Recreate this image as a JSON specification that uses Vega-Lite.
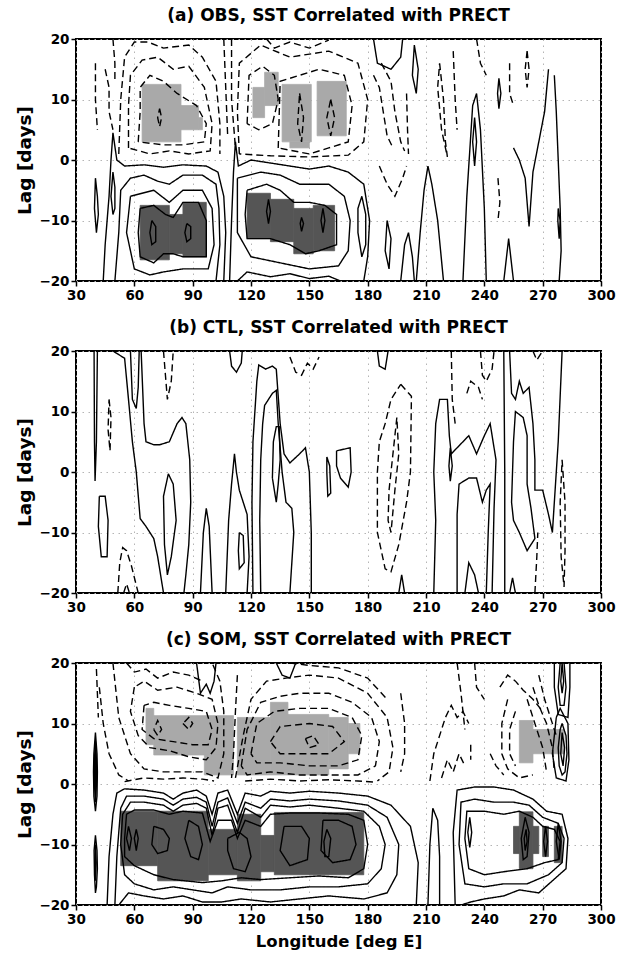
{
"$schema": "https://vega.github.io/schema/vega-lite/v6.json",
"background": "white",
"padding": {"left": 14, "top": 6, "right": 10, "bottom": 5},
"spacing": 70,
"bounds": "flush",
"config": {
  "font": "DejaVu Sans",
  "view": {"stroke": "black", "strokeWidth": 2},
  "title": {"fontSize": 17, "fontWeight": "bold", "offset": 7, "color": "black", "anchor": "middle"},
  "axis": {"labelFontSize": 13.5, "labelFontWeight": "bold", "labelColor": "black", "labelOverlap": false, "labelFlush": false, "tickColor": "black", "tickSize": 5, "tickWidth": 1.5, "domain": false, "grid": true, "gridColor": "#b5b5b5", "gridDash": [1.5, 4.5], "gridWidth": 1, "labelPadding": 2, "titleColor": "black"},
  "axisX": {"titleFontSize": 16.5, "titleFontWeight": "bold"},
  "axisY": {"titleFontSize": 18.5, "titleFontWeight": "bold"}
},
"datasets": {
"shade": [
{"p":"a","k":"neg","x1":64,"x2":84,"y1":3,"y2":12.5},
{"p":"a","k":"neg","x1":84,"x2":93,"y1":5,"y2":9},
{"p":"a","k":"neg","x1":93,"x2":95,"y1":5,"y2":7},
{"p":"a","k":"neg","x1":121,"x2":127,"y1":7,"y2":12},
{"p":"a","k":"neg","x1":127,"x2":134,"y1":9,"y2":14.5},
{"p":"a","k":"neg","x1":136,"x2":151,"y1":3,"y2":12.5},
{"p":"a","k":"neg","x1":140,"x2":150,"y1":2,"y2":3},
{"p":"a","k":"neg","x1":154,"x2":169,"y1":4,"y2":13},
{"p":"a","k":"pos","x1":63,"x2":78,"y1":-16.5,"y2":-7.5},
{"p":"a","k":"pos","x1":78,"x2":85,"y1":-15.5,"y2":-9},
{"p":"a","k":"pos","x1":85,"x2":97,"y1":-16,"y2":-7},
{"p":"a","k":"pos","x1":118,"x2":130,"y1":-13,"y2":-5.5},
{"p":"a","k":"pos","x1":130,"x2":142,"y1":-13.5,"y2":-6.5},
{"p":"a","k":"pos","x1":142,"x2":152,"y1":-15.5,"y2":-8},
{"p":"a","k":"pos","x1":152,"x2":163,"y1":-15,"y2":-7.5},
{"p":"c","k":"neg","x1":66,"x2":70,"y1":6.5,"y2":12.5},
{"p":"c","k":"neg","x1":70,"x2":111,"y1":4.8,"y2":11.3},
{"p":"c","k":"neg","x1":96,"x2":111,"y1":1.5,"y2":4.8},
{"p":"c","k":"neg","x1":113,"x2":130,"y1":1.5,"y2":11},
{"p":"c","k":"neg","x1":130,"x2":139,"y1":1.5,"y2":13.5},
{"p":"c","k":"neg","x1":139,"x2":160,"y1":1.5,"y2":11.5},
{"p":"c","k":"neg","x1":160,"x2":170,"y1":2.5,"y2":11},
{"p":"c","k":"neg","x1":170,"x2":176,"y1":5,"y2":10},
{"p":"c","k":"neg","x1":258,"x2":265,"y1":3.5,"y2":10.5},
{"p":"c","k":"neg","x1":265,"x2":281,"y1":5,"y2":9},
{"p":"c","k":"pos","x1":53,"x2":72,"y1":-13.5,"y2":-4.5},
{"p":"c","k":"pos","x1":72,"x2":98,"y1":-16,"y2":-4.5},
{"p":"c","k":"pos","x1":98,"x2":113,"y1":-15,"y2":-7.5},
{"p":"c","k":"pos","x1":113,"x2":125,"y1":-16,"y2":-5},
{"p":"c","k":"pos","x1":125,"x2":132,"y1":-14.5,"y2":-8.5},
{"p":"c","k":"pos","x1":132,"x2":178,"y1":-15,"y2":-4.7},
{"p":"c","k":"pos","x1":258,"x2":265,"y1":-14,"y2":-4.6},
{"p":"c","k":"pos","x1":255,"x2":258,"y1":-11.5,"y2":-7},
{"p":"c","k":"pos","x1":265,"x2":268,"y1":-11.5,"y2":-7},
{"p":"c","k":"pos","x1":270,"x2":273,"y1":-12,"y2":-7},
{"p":"c","k":"pos","x1":276,"x2":280,"y1":-13,"y2":-7}
],
"lines": [
{"p":"a","c":"a1","s":"pos","x":69,"y":-10},{"p":"a","c":"a1","s":"pos","x":71,"y":-11},{"p":"a","c":"a1","s":"pos","x":71,"y":-13.5},{"p":"a","c":"a1","s":"pos","x":69,"y":-14},{"p":"a","c":"a1","s":"pos","x":68,"y":-12},{"p":"a","c":"a1","s":"pos","x":69,"y":-10},
{"p":"a","c":"a2","s":"pos","x":87,"y":-10.5},{"p":"a","c":"a2","s":"pos","x":89,"y":-11},{"p":"a","c":"a2","s":"pos","x":89,"y":-13},{"p":"a","c":"a2","s":"pos","x":87,"y":-13.5},{"p":"a","c":"a2","s":"pos","x":86,"y":-12},{"p":"a","c":"a2","s":"pos","x":87,"y":-10.5},
{"p":"a","c":"a3","s":"pos","x":63,"y":-8},{"p":"a","c":"a3","s":"pos","x":70,"y":-7.5},{"p":"a","c":"a3","s":"pos","x":76,"y":-9},{"p":"a","c":"a3","s":"pos","x":80,"y":-9.5},{"p":"a","c":"a3","s":"pos","x":85,"y":-7},{"p":"a","c":"a3","s":"pos","x":93,"y":-7},{"p":"a","c":"a3","s":"pos","x":97,"y":-10},{"p":"a","c":"a3","s":"pos","x":97,"y":-16},{"p":"a","c":"a3","s":"pos","x":85,"y":-16},{"p":"a","c":"a3","s":"pos","x":80,"y":-15.5},{"p":"a","c":"a3","s":"pos","x":75,"y":-15.5},{"p":"a","c":"a3","s":"pos","x":70,"y":-17},{"p":"a","c":"a3","s":"pos","x":63,"y":-16},{"p":"a","c":"a3","s":"pos","x":62,"y":-12},{"p":"a","c":"a3","s":"pos","x":63,"y":-8},
{"p":"a","c":"a4","s":"pos","x":58,"y":-6},{"p":"a","c":"a4","s":"pos","x":64,"y":-5.5},{"p":"a","c":"a4","s":"pos","x":70,"y":-5},{"p":"a","c":"a4","s":"pos","x":78,"y":-7},{"p":"a","c":"a4","s":"pos","x":85,"y":-5},{"p":"a","c":"a4","s":"pos","x":95,"y":-5},{"p":"a","c":"a4","s":"pos","x":100,"y":-8},{"p":"a","c":"a4","s":"pos","x":101,"y":-14},{"p":"a","c":"a4","s":"pos","x":98,"y":-18},{"p":"a","c":"a4","s":"pos","x":85,"y":-18},{"p":"a","c":"a4","s":"pos","x":75,"y":-18.5},{"p":"a","c":"a4","s":"pos","x":68,"y":-19},{"p":"a","c":"a4","s":"pos","x":60,"y":-18},{"p":"a","c":"a4","s":"pos","x":56,"y":-12},{"p":"a","c":"a4","s":"pos","x":58,"y":-6},
{"p":"a","c":"a5","s":"pos","x":50,"y":-20},{"p":"a","c":"a5","s":"pos","x":52,"y":-12},{"p":"a","c":"a5","s":"pos","x":53,"y":-5},{"p":"a","c":"a5","s":"pos","x":58,"y":-3},{"p":"a","c":"a5","s":"pos","x":65,"y":-2.5},{"p":"a","c":"a5","s":"pos","x":72,"y":-3.5},{"p":"a","c":"a5","s":"pos","x":78,"y":-4},{"p":"a","c":"a5","s":"pos","x":85,"y":-2.5},{"p":"a","c":"a5","s":"pos","x":95,"y":-2.5},{"p":"a","c":"a5","s":"pos","x":102,"y":-4},{"p":"a","c":"a5","s":"pos","x":103.5,"y":-8},{"p":"a","c":"a5","s":"pos","x":104,"y":-14},{"p":"a","c":"a5","s":"pos","x":102,"y":-20},
{"p":"a","c":"a6","s":"pos","x":44,"y":-20},{"p":"a","c":"a6","s":"pos","x":45,"y":-14},{"p":"a","c":"a6","s":"pos","x":47,"y":-6},{"p":"a","c":"a6","s":"pos","x":48,"y":0},{"p":"a","c":"a6","s":"pos","x":49,"y":4.5},{"p":"a","c":"a6","s":"pos","x":51,"y":0},{"p":"a","c":"a6","s":"pos","x":55,"y":-1},{"p":"a","c":"a6","s":"pos","x":65,"y":-0.8},{"p":"a","c":"a6","s":"pos","x":75,"y":-1.2},{"p":"a","c":"a6","s":"pos","x":85,"y":-0.8},{"p":"a","c":"a6","s":"pos","x":97,"y":-1},{"p":"a","c":"a6","s":"pos","x":103,"y":-2},{"p":"a","c":"a6","s":"pos","x":106,"y":-6},{"p":"a","c":"a6","s":"pos","x":107,"y":-12},{"p":"a","c":"a6","s":"pos","x":106,"y":-20},
{"p":"a","c":"a7","s":"pos","x":40,"y":-3},{"p":"a","c":"a7","s":"pos","x":41,"y":-6},{"p":"a","c":"a7","s":"pos","x":41.5,"y":-9},{"p":"a","c":"a7","s":"pos","x":40.5,"y":-12},{"p":"a","c":"a7","s":"pos","x":39.5,"y":-8},{"p":"a","c":"a7","s":"pos","x":40,"y":-3},
{"p":"a","c":"a8","s":"pos","x":49,"y":-2},{"p":"a","c":"a8","s":"pos","x":50,"y":-4.5},{"p":"a","c":"a8","s":"pos","x":50,"y":-8},{"p":"a","c":"a8","s":"pos","x":49,"y":-9},{"p":"a","c":"a8","s":"pos","x":48,"y":-6},{"p":"a","c":"a8","s":"pos","x":49,"y":-2},
{"p":"a","c":"a9","s":"pos","x":109,"y":-20},{"p":"a","c":"a9","s":"pos","x":110,"y":-10},{"p":"a","c":"a9","s":"pos","x":111,"y":-2},{"p":"a","c":"a9","s":"pos","x":112,"y":3},{"p":"a","c":"a9","s":"pos","x":113.5,"y":-1},{"p":"a","c":"a9","s":"pos","x":120,"y":0},{"p":"a","c":"a9","s":"pos","x":130,"y":-0.5},{"p":"a","c":"a9","s":"pos","x":140,"y":-1},{"p":"a","c":"a9","s":"pos","x":150,"y":-1.5},{"p":"a","c":"a9","s":"pos","x":160,"y":-1},{"p":"a","c":"a9","s":"pos","x":170,"y":-2},{"p":"a","c":"a9","s":"pos","x":178,"y":-4},{"p":"a","c":"a9","s":"pos","x":181,"y":-10},{"p":"a","c":"a9","s":"pos","x":180,"y":-16},{"p":"a","c":"a9","s":"pos","x":178,"y":-20},
{"p":"a","c":"a10","s":"pos","x":113,"y":-3},{"p":"a","c":"a10","s":"pos","x":125,"y":-2},{"p":"a","c":"a10","s":"pos","x":135,"y":-2.5},{"p":"a","c":"a10","s":"pos","x":145,"y":-4},{"p":"a","c":"a10","s":"pos","x":160,"y":-4},{"p":"a","c":"a10","s":"pos","x":168,"y":-6},{"p":"a","c":"a10","s":"pos","x":171,"y":-10},{"p":"a","c":"a10","s":"pos","x":170,"y":-15},{"p":"a","c":"a10","s":"pos","x":165,"y":-17.5},{"p":"a","c":"a10","s":"pos","x":150,"y":-18},{"p":"a","c":"a10","s":"pos","x":135,"y":-17},{"p":"a","c":"a10","s":"pos","x":120,"y":-16},{"p":"a","c":"a10","s":"pos","x":113,"y":-12},{"p":"a","c":"a10","s":"pos","x":113,"y":-3},
{"p":"a","c":"a11","s":"pos","x":118,"y":-5},{"p":"a","c":"a11","s":"pos","x":128,"y":-4},{"p":"a","c":"a11","s":"pos","x":135,"y":-5},{"p":"a","c":"a11","s":"pos","x":142,"y":-7},{"p":"a","c":"a11","s":"pos","x":150,"y":-7},{"p":"a","c":"a11","s":"pos","x":158,"y":-7.5},{"p":"a","c":"a11","s":"pos","x":164,"y":-9},{"p":"a","c":"a11","s":"pos","x":164,"y":-14},{"p":"a","c":"a11","s":"pos","x":155,"y":-15},{"p":"a","c":"a11","s":"pos","x":148,"y":-15.5},{"p":"a","c":"a11","s":"pos","x":140,"y":-14},{"p":"a","c":"a11","s":"pos","x":130,"y":-13},{"p":"a","c":"a11","s":"pos","x":118,"y":-13},{"p":"a","c":"a11","s":"pos","x":117,"y":-9},{"p":"a","c":"a11","s":"pos","x":118,"y":-5},
{"p":"a","c":"a12","s":"pos","x":129,"y":-6.5},{"p":"a","c":"a12","s":"pos","x":130,"y":-8.5},{"p":"a","c":"a12","s":"pos","x":129,"y":-10.5},{"p":"a","c":"a12","s":"pos","x":128,"y":-8.5},{"p":"a","c":"a12","s":"pos","x":129,"y":-6.5},
{"p":"a","c":"a13","s":"pos","x":146,"y":-9.5},{"p":"a","c":"a13","s":"pos","x":147,"y":-10.5},{"p":"a","c":"a13","s":"pos","x":146,"y":-11.8},{"p":"a","c":"a13","s":"pos","x":145.3,"y":-10.5},{"p":"a","c":"a13","s":"pos","x":146,"y":-9.5},
{"p":"a","c":"a14","s":"pos","x":157,"y":-8},{"p":"a","c":"a14","s":"pos","x":158,"y":-10},{"p":"a","c":"a14","s":"pos","x":157,"y":-12},{"p":"a","c":"a14","s":"pos","x":156,"y":-10},{"p":"a","c":"a14","s":"pos","x":157,"y":-8},
{"p":"a","c":"a15","s":"pos","x":177,"y":-6},{"p":"a","c":"a15","s":"pos","x":179,"y":-9},{"p":"a","c":"a15","s":"pos","x":179,"y":-14},{"p":"a","c":"a15","s":"pos","x":177,"y":-16},{"p":"a","c":"a15","s":"pos","x":175,"y":-12},{"p":"a","c":"a15","s":"pos","x":175,"y":-8},{"p":"a","c":"a15","s":"pos","x":177,"y":-6},
{"p":"a","c":"a16","s":"pos","x":113,"y":-20},{"p":"a","c":"a16","s":"pos","x":118,"y":-18.5},{"p":"a","c":"a16","s":"pos","x":130,"y":-19.3},{"p":"a","c":"a16","s":"pos","x":140,"y":-18.8},{"p":"a","c":"a16","s":"pos","x":150,"y":-19.6},{"p":"a","c":"a16","s":"pos","x":160,"y":-19.2},{"p":"a","c":"a16","s":"pos","x":166,"y":-20},
{"p":"a","c":"a17","s":"pos","x":204,"y":19},{"p":"a","c":"a17","s":"pos","x":206,"y":15},{"p":"a","c":"a17","s":"pos","x":205,"y":11},{"p":"a","c":"a17","s":"pos","x":203,"y":14},{"p":"a","c":"a17","s":"pos","x":204,"y":19},
{"p":"a","c":"a18","s":"pos","x":183,"y":20},{"p":"a","c":"a18","s":"pos","x":185,"y":16},{"p":"a","c":"a18","s":"pos","x":192,"y":15},{"p":"a","c":"a18","s":"pos","x":197,"y":17},{"p":"a","c":"a18","s":"pos","x":198,"y":20},
{"p":"a","c":"a19","s":"pos","x":190,"y":-10},{"p":"a","c":"a19","s":"pos","x":192,"y":-13},{"p":"a","c":"a19","s":"pos","x":191,"y":-18},{"p":"a","c":"a19","s":"pos","x":189,"y":-15},{"p":"a","c":"a19","s":"pos","x":190,"y":-10},
{"p":"a","c":"a20","s":"pos","x":205,"y":-20},{"p":"a","c":"a20","s":"pos","x":207,"y":-12},{"p":"a","c":"a20","s":"pos","x":209,"y":-5},{"p":"a","c":"a20","s":"pos","x":211,"y":-1},{"p":"a","c":"a20","s":"pos","x":213,"y":-4},{"p":"a","c":"a20","s":"pos","x":216,"y":-10},{"p":"a","c":"a20","s":"pos","x":219,"y":-20},
{"p":"a","c":"a21","s":"pos","x":197,"y":-20},{"p":"a","c":"a21","s":"pos","x":199,"y":-14},{"p":"a","c":"a21","s":"pos","x":201,"y":-12},{"p":"a","c":"a21","s":"pos","x":203,"y":-16},{"p":"a","c":"a21","s":"pos","x":204,"y":-20},
{"p":"a","c":"a22","s":"pos","x":229,"y":-20},{"p":"a","c":"a22","s":"pos","x":231,"y":-6},{"p":"a","c":"a22","s":"pos","x":233,"y":4},{"p":"a","c":"a22","s":"pos","x":234,"y":9},{"p":"a","c":"a22","s":"pos","x":236,"y":11},{"p":"a","c":"a22","s":"pos","x":238,"y":5},{"p":"a","c":"a22","s":"pos","x":240,"y":-8},{"p":"a","c":"a22","s":"pos","x":241,"y":-20},
{"p":"a","c":"a23","s":"pos","x":235,"y":7},{"p":"a","c":"a23","s":"pos","x":236,"y":3},{"p":"a","c":"a23","s":"pos","x":235,"y":-1},{"p":"a","c":"a23","s":"pos","x":234,"y":3},{"p":"a","c":"a23","s":"pos","x":235,"y":7},
{"p":"a","c":"a24","s":"pos","x":250,"y":-20},{"p":"a","c":"a24","s":"pos","x":252.5,"y":-13},{"p":"a","c":"a24","s":"pos","x":255,"y":-20},
{"p":"a","c":"a25","s":"pos","x":273,"y":15},{"p":"a","c":"a25","s":"pos","x":271,"y":8},{"p":"a","c":"a25","s":"pos","x":268,"y":3},{"p":"a","c":"a25","s":"pos","x":265,"y":-2},{"p":"a","c":"a25","s":"pos","x":263,"y":-11},{"p":"a","c":"a25","s":"pos","x":261,"y":-3},{"p":"a","c":"a25","s":"pos","x":258,"y":0},{"p":"a","c":"a25","s":"pos","x":255,"y":2},
{"p":"a","c":"a26","s":"pos","x":276,"y":14},{"p":"a","c":"a26","s":"pos","x":277,"y":8},{"p":"a","c":"a26","s":"pos","x":278,"y":0},{"p":"a","c":"a26","s":"pos","x":279,"y":-8},{"p":"a","c":"a26","s":"pos","x":279.5,"y":-15},{"p":"a","c":"a26","s":"pos","x":278.5,"y":-20},
{"p":"a","c":"a27","s":"pos","x":278,"y":-8},{"p":"a","c":"a27","s":"pos","x":279,"y":-10},{"p":"a","c":"a27","s":"pos","x":278.5,"y":-13},{"p":"a","c":"a27","s":"pos","x":277.8,"y":-10},{"p":"a","c":"a27","s":"pos","x":278,"y":-8},
{"p":"a","c":"a28","s":"pos","x":247.5,"y":13.5},{"p":"a","c":"a28","s":"pos","x":248.5,"y":11},{"p":"a","c":"a28","s":"pos","x":247.5,"y":8.5},{"p":"a","c":"a28","s":"pos","x":246.8,"y":11},{"p":"a","c":"a28","s":"pos","x":247.5,"y":13.5},
{"p":"a","c":"a30","s":"neg","x":62,"y":3},{"p":"a","c":"a30","s":"neg","x":63,"y":8},{"p":"a","c":"a30","s":"neg","x":63,"y":12},{"p":"a","c":"a30","s":"neg","x":68,"y":14},{"p":"a","c":"a30","s":"neg","x":75,"y":13},{"p":"a","c":"a30","s":"neg","x":82,"y":11},{"p":"a","c":"a30","s":"neg","x":92,"y":9},{"p":"a","c":"a30","s":"neg","x":97,"y":6},{"p":"a","c":"a30","s":"neg","x":96,"y":3},{"p":"a","c":"a30","s":"neg","x":85,"y":2.5},{"p":"a","c":"a30","s":"neg","x":75,"y":2.5},{"p":"a","c":"a30","s":"neg","x":62,"y":3},
{"p":"a","c":"a31","s":"neg","x":57,"y":2},{"p":"a","c":"a31","s":"neg","x":57,"y":9},{"p":"a","c":"a31","s":"neg","x":58,"y":14},{"p":"a","c":"a31","s":"neg","x":64,"y":16.5},{"p":"a","c":"a31","s":"neg","x":72,"y":17},{"p":"a","c":"a31","s":"neg","x":80,"y":15},{"p":"a","c":"a31","s":"neg","x":88,"y":15.5},{"p":"a","c":"a31","s":"neg","x":96,"y":12},{"p":"a","c":"a31","s":"neg","x":100,"y":6},{"p":"a","c":"a31","s":"neg","x":99,"y":1.5},{"p":"a","c":"a31","s":"neg","x":88,"y":1},{"p":"a","c":"a31","s":"neg","x":78,"y":1.5},{"p":"a","c":"a31","s":"neg","x":68,"y":1},{"p":"a","c":"a31","s":"neg","x":57,"y":2},
{"p":"a","c":"a32","s":"neg","x":52,"y":1},{"p":"a","c":"a32","s":"neg","x":53,"y":10},{"p":"a","c":"a32","s":"neg","x":55,"y":17},{"p":"a","c":"a32","s":"neg","x":60,"y":19.5},{"p":"a","c":"a32","s":"neg","x":67,"y":19.5},{"p":"a","c":"a32","s":"neg","x":75,"y":18.5},{"p":"a","c":"a32","s":"neg","x":88,"y":19},{"p":"a","c":"a32","s":"neg","x":95,"y":17},{"p":"a","c":"a32","s":"neg","x":102,"y":13},{"p":"a","c":"a32","s":"neg","x":104,"y":6},{"p":"a","c":"a32","s":"neg","x":104,"y":1},
{"p":"a","c":"a33","s":"neg","x":73,"y":8.5},{"p":"a","c":"a33","s":"neg","x":74,"y":7},{"p":"a","c":"a33","s":"neg","x":73,"y":5.5},{"p":"a","c":"a33","s":"neg","x":72,"y":7},{"p":"a","c":"a33","s":"neg","x":73,"y":8.5},
{"p":"a","c":"a34","s":"neg","x":40,"y":16},{"p":"a","c":"a34","s":"neg","x":40,"y":10},{"p":"a","c":"a34","s":"neg","x":41,"y":5},
{"p":"a","c":"a35","s":"neg","x":45,"y":15},{"p":"a","c":"a35","s":"neg","x":47,"y":12},{"p":"a","c":"a35","s":"neg","x":47,"y":8},{"p":"a","c":"a35","s":"neg","x":49,"y":5},
{"p":"a","c":"a36","s":"neg","x":49,"y":20},{"p":"a","c":"a36","s":"neg","x":50,"y":16},{"p":"a","c":"a36","s":"neg","x":50,"y":13},
{"p":"a","c":"a37","s":"neg","x":106,"y":20},{"p":"a","c":"a37","s":"neg","x":107,"y":12},{"p":"a","c":"a37","s":"neg","x":108,"y":4},
{"p":"a","c":"a38","s":"neg","x":110,"y":20},{"p":"a","c":"a38","s":"neg","x":110,"y":10},{"p":"a","c":"a38","s":"neg","x":112,"y":2},
{"p":"a","c":"a39","s":"neg","x":118,"y":6},{"p":"a","c":"a39","s":"neg","x":119,"y":14},{"p":"a","c":"a39","s":"neg","x":126,"y":15.5},{"p":"a","c":"a39","s":"neg","x":132,"y":14},{"p":"a","c":"a39","s":"neg","x":134,"y":10},{"p":"a","c":"a39","s":"neg","x":131,"y":6},{"p":"a","c":"a39","s":"neg","x":124,"y":5},{"p":"a","c":"a39","s":"neg","x":118,"y":6},
{"p":"a","c":"a40","s":"neg","x":134,"y":2},{"p":"a","c":"a40","s":"neg","x":135,"y":13},{"p":"a","c":"a40","s":"neg","x":145,"y":14},{"p":"a","c":"a40","s":"neg","x":155,"y":15},{"p":"a","c":"a40","s":"neg","x":168,"y":14},{"p":"a","c":"a40","s":"neg","x":172,"y":9},{"p":"a","c":"a40","s":"neg","x":170,"y":3},{"p":"a","c":"a40","s":"neg","x":160,"y":2},{"p":"a","c":"a40","s":"neg","x":150,"y":1},{"p":"a","c":"a40","s":"neg","x":134,"y":2},
{"p":"a","c":"a41","s":"neg","x":145,"y":11},{"p":"a","c":"a41","s":"neg","x":147,"y":7},{"p":"a","c":"a41","s":"neg","x":146,"y":3},{"p":"a","c":"a41","s":"neg","x":144,"y":6},{"p":"a","c":"a41","s":"neg","x":145,"y":11},
{"p":"a","c":"a42","s":"neg","x":161,"y":10},{"p":"a","c":"a42","s":"neg","x":163,"y":7},{"p":"a","c":"a42","s":"neg","x":161,"y":4},{"p":"a","c":"a42","s":"neg","x":159,"y":7},{"p":"a","c":"a42","s":"neg","x":161,"y":10},
{"p":"a","c":"a43","s":"neg","x":114,"y":1},{"p":"a","c":"a43","s":"neg","x":113,"y":8},{"p":"a","c":"a43","s":"neg","x":114,"y":16},{"p":"a","c":"a43","s":"neg","x":125,"y":19},{"p":"a","c":"a43","s":"neg","x":140,"y":17},{"p":"a","c":"a43","s":"neg","x":160,"y":18},{"p":"a","c":"a43","s":"neg","x":175,"y":16},{"p":"a","c":"a43","s":"neg","x":180,"y":10},{"p":"a","c":"a43","s":"neg","x":178,"y":3},{"p":"a","c":"a43","s":"neg","x":170,"y":0.8},{"p":"a","c":"a43","s":"neg","x":150,"y":0.5},{"p":"a","c":"a43","s":"neg","x":130,"y":0.7},{"p":"a","c":"a43","s":"neg","x":114,"y":1},
{"p":"a","c":"a44","s":"neg","x":183,"y":14},{"p":"a","c":"a44","s":"neg","x":186,"y":12},{"p":"a","c":"a44","s":"neg","x":188,"y":8},{"p":"a","c":"a44","s":"neg","x":190,"y":4},{"p":"a","c":"a44","s":"neg","x":193,"y":2},
{"p":"a","c":"a45","s":"neg","x":187,"y":16},{"p":"a","c":"a45","s":"neg","x":192,"y":13},{"p":"a","c":"a45","s":"neg","x":194,"y":8},{"p":"a","c":"a45","s":"neg","x":197,"y":3},{"p":"a","c":"a45","s":"neg","x":199,"y":1.5},
{"p":"a","c":"a46","s":"neg","x":200,"y":11},{"p":"a","c":"a46","s":"neg","x":200.5,"y":5},{"p":"a","c":"a46","s":"neg","x":201,"y":1},
{"p":"a","c":"a47","s":"neg","x":217,"y":16},{"p":"a","c":"a47","s":"neg","x":219,"y":10},{"p":"a","c":"a47","s":"neg","x":220,"y":3},{"p":"a","c":"a47","s":"neg","x":221,"y":0.5},{"p":"a","c":"a47","s":"neg","x":218,"y":5},{"p":"a","c":"a47","s":"neg","x":216,"y":12},{"p":"a","c":"a47","s":"neg","x":217,"y":16},
{"p":"a","c":"a48","s":"neg","x":224,"y":18},{"p":"a","c":"a48","s":"neg","x":225,"y":10},{"p":"a","c":"a48","s":"neg","x":226,"y":5},
{"p":"a","c":"a49","s":"neg","x":253,"y":16},{"p":"a","c":"a49","s":"neg","x":253,"y":11},{"p":"a","c":"a49","s":"neg","x":255,"y":9},
{"p":"a","c":"a50","s":"neg","x":262,"y":18},{"p":"a","c":"a50","s":"neg","x":263,"y":15},{"p":"a","c":"a50","s":"neg","x":262,"y":12},{"p":"a","c":"a50","s":"neg","x":261,"y":15},{"p":"a","c":"a50","s":"neg","x":262,"y":18},
{"p":"a","c":"a51","s":"neg","x":186,"y":-1},{"p":"a","c":"a51","s":"neg","x":190,"y":-4},{"p":"a","c":"a51","s":"neg","x":194,"y":-6},{"p":"a","c":"a51","s":"neg","x":198,"y":-3},{"p":"a","c":"a51","s":"neg","x":200,"y":-1},
{"p":"a","c":"a52","s":"neg","x":247,"y":-3},{"p":"a","c":"a52","s":"neg","x":248,"y":-7},{"p":"a","c":"a52","s":"neg","x":247,"y":-10},
{"p":"a","c":"a53","s":"neg","x":128,"y":20},{"p":"a","c":"a53","s":"neg","x":132,"y":18.5},{"p":"a","c":"a53","s":"neg","x":140,"y":19.5},{"p":"a","c":"a53","s":"neg","x":150,"y":18.5},{"p":"a","c":"a53","s":"neg","x":160,"y":19.8},
{"p":"a","c":"a55","s":"neg","x":236,"y":20},{"p":"a","c":"a55","s":"neg","x":238,"y":16},{"p":"a","c":"a55","s":"neg","x":241,"y":14},

{"p":"b","c":"b1","s":"pos","x":39.3,"y":20},{"p":"b","c":"b1","s":"pos","x":39.5,"y":5},{"p":"b","c":"b1","s":"pos","x":39.8,"y":-1.5},{"p":"b","c":"b1","s":"pos","x":40.5,"y":5},{"p":"b","c":"b1","s":"pos","x":41,"y":20},
{"p":"b","c":"b2","s":"neg","x":47,"y":12},{"p":"b","c":"b2","s":"neg","x":48,"y":9},{"p":"b","c":"b2","s":"neg","x":47.5,"y":3.5},{"p":"b","c":"b2","s":"neg","x":46.5,"y":7},{"p":"b","c":"b2","s":"neg","x":47,"y":12},
{"p":"b","c":"b3","s":"pos","x":42,"y":-4},{"p":"b","c":"b3","s":"pos","x":45,"y":-4},{"p":"b","c":"b3","s":"pos","x":46.5,"y":-8},{"p":"b","c":"b3","s":"pos","x":46,"y":-14},{"p":"b","c":"b3","s":"pos","x":43,"y":-14},{"p":"b","c":"b3","s":"pos","x":41.5,"y":-9},{"p":"b","c":"b3","s":"pos","x":42,"y":-4},
{"p":"b","c":"b4","s":"neg","x":51.5,"y":-20},{"p":"b","c":"b4","s":"neg","x":52.5,"y":-15},{"p":"b","c":"b4","s":"neg","x":54,"y":-12.5},{"p":"b","c":"b4","s":"neg","x":56,"y":-13},{"p":"b","c":"b4","s":"neg","x":58.5,"y":-15.5},{"p":"b","c":"b4","s":"neg","x":62,"y":-20},
{"p":"b","c":"b5","s":"neg","x":54.5,"y":-20},{"p":"b","c":"b5","s":"neg","x":56,"y":-18.5},{"p":"b","c":"b5","s":"neg","x":57.5,"y":-20},
{"p":"b","c":"b6","s":"pos","x":49,"y":20},{"p":"b","c":"b6","s":"pos","x":55,"y":18.8},{"p":"b","c":"b6","s":"pos","x":57,"y":12},{"p":"b","c":"b6","s":"pos","x":59,"y":5},{"p":"b","c":"b6","s":"pos","x":61,"y":0},{"p":"b","c":"b6","s":"pos","x":63,"y":-7.7},{"p":"b","c":"b6","s":"pos","x":66,"y":-9},{"p":"b","c":"b6","s":"pos","x":70,"y":-11},{"p":"b","c":"b6","s":"pos","x":72,"y":-14},{"p":"b","c":"b6","s":"pos","x":75,"y":-20},
{"p":"b","c":"b7","s":"pos","x":58,"y":20},{"p":"b","c":"b7","s":"pos","x":59,"y":12},{"p":"b","c":"b7","s":"pos","x":61,"y":10.5},{"p":"b","c":"b7","s":"pos","x":62,"y":14},{"p":"b","c":"b7","s":"pos","x":62.5,"y":20},
{"p":"b","c":"b8","s":"pos","x":63.5,"y":20},{"p":"b","c":"b8","s":"pos","x":65,"y":8},{"p":"b","c":"b8","s":"pos","x":66,"y":5},{"p":"b","c":"b8","s":"pos","x":70,"y":4.5},{"p":"b","c":"b8","s":"pos","x":73,"y":4.5},{"p":"b","c":"b8","s":"pos","x":78,"y":5},{"p":"b","c":"b8","s":"pos","x":82,"y":8},{"p":"b","c":"b8","s":"pos","x":84.5,"y":9},{"p":"b","c":"b8","s":"pos","x":86.5,"y":8},{"p":"b","c":"b8","s":"pos","x":88.5,"y":2},{"p":"b","c":"b8","s":"pos","x":89,"y":-5},{"p":"b","c":"b8","s":"pos","x":88,"y":-12},{"p":"b","c":"b8","s":"pos","x":86.5,"y":-17},{"p":"b","c":"b8","s":"pos","x":85.5,"y":-20},
{"p":"b","c":"b9","s":"pos","x":77.5,"y":-0.3},{"p":"b","c":"b9","s":"pos","x":80,"y":-2},{"p":"b","c":"b9","s":"pos","x":81.5,"y":-8},{"p":"b","c":"b9","s":"pos","x":79,"y":-14},{"p":"b","c":"b9","s":"pos","x":77,"y":-17},{"p":"b","c":"b9","s":"pos","x":75.5,"y":-12},{"p":"b","c":"b9","s":"pos","x":75,"y":-4},{"p":"b","c":"b9","s":"pos","x":77.5,"y":-0.3},
{"p":"b","c":"b10","s":"neg","x":75,"y":20},{"p":"b","c":"b10","s":"neg","x":76,"y":16},{"p":"b","c":"b10","s":"neg","x":77,"y":12},{"p":"b","c":"b10","s":"neg","x":79,"y":15},{"p":"b","c":"b10","s":"neg","x":80,"y":20},
{"p":"b","c":"b11","s":"pos","x":94,"y":-20},{"p":"b","c":"b11","s":"pos","x":95.5,"y":-10},{"p":"b","c":"b11","s":"pos","x":97,"y":-6},{"p":"b","c":"b11","s":"pos","x":98.5,"y":-9},{"p":"b","c":"b11","s":"pos","x":100,"y":-20},
{"p":"b","c":"b12","s":"pos","x":107,"y":-20},{"p":"b","c":"b12","s":"pos","x":108.5,"y":-8},{"p":"b","c":"b12","s":"pos","x":110,"y":-2},{"p":"b","c":"b12","s":"pos","x":111.5,"y":3},{"p":"b","c":"b12","s":"pos","x":112.5,"y":0},{"p":"b","c":"b12","s":"pos","x":114,"y":-3},{"p":"b","c":"b12","s":"pos","x":118,"y":-7},{"p":"b","c":"b12","s":"pos","x":119,"y":-14},{"p":"b","c":"b12","s":"pos","x":118,"y":-20},
{"p":"b","c":"b13","s":"pos","x":114,"y":-10},{"p":"b","c":"b13","s":"pos","x":116,"y":-10.5},{"p":"b","c":"b13","s":"pos","x":116.5,"y":-15},{"p":"b","c":"b13","s":"pos","x":114,"y":-16},{"p":"b","c":"b13","s":"pos","x":113.5,"y":-13},{"p":"b","c":"b13","s":"pos","x":114,"y":-10},
{"p":"b","c":"b14","s":"pos","x":121,"y":-20},{"p":"b","c":"b14","s":"pos","x":120.5,"y":-5},{"p":"b","c":"b14","s":"pos","x":121,"y":5},{"p":"b","c":"b14","s":"pos","x":123,"y":15},{"p":"b","c":"b14","s":"pos","x":124,"y":17.7},{"p":"b","c":"b14","s":"pos","x":127.5,"y":17},{"p":"b","c":"b14","s":"pos","x":131,"y":17.5},{"p":"b","c":"b14","s":"pos","x":133,"y":17},{"p":"b","c":"b14","s":"pos","x":135,"y":8},{"p":"b","c":"b14","s":"pos","x":137,"y":3},{"p":"b","c":"b14","s":"pos","x":140,"y":1.5},{"p":"b","c":"b14","s":"pos","x":145,"y":3},{"p":"b","c":"b14","s":"pos","x":148,"y":4},{"p":"b","c":"b14","s":"pos","x":150,"y":0},{"p":"b","c":"b14","s":"pos","x":151,"y":-10},{"p":"b","c":"b14","s":"pos","x":151,"y":-20},
{"p":"b","c":"b15","s":"pos","x":125,"y":-20},{"p":"b","c":"b15","s":"pos","x":124.5,"y":-8},{"p":"b","c":"b15","s":"pos","x":125,"y":2},{"p":"b","c":"b15","s":"pos","x":126,"y":8},{"p":"b","c":"b15","s":"pos","x":127,"y":11},{"p":"b","c":"b15","s":"pos","x":131,"y":13},{"p":"b","c":"b15","s":"pos","x":133,"y":13.5},{"p":"b","c":"b15","s":"pos","x":134,"y":8},{"p":"b","c":"b15","s":"pos","x":136,"y":0},{"p":"b","c":"b15","s":"pos","x":138,"y":-5},{"p":"b","c":"b15","s":"pos","x":141,"y":-6},{"p":"b","c":"b15","s":"pos","x":142,"y":-10},{"p":"b","c":"b15","s":"pos","x":140,"y":-20},
{"p":"b","c":"b16","s":"pos","x":131,"y":-1},{"p":"b","c":"b16","s":"pos","x":131.5,"y":5},{"p":"b","c":"b16","s":"pos","x":133,"y":7.5},{"p":"b","c":"b16","s":"pos","x":134.5,"y":7.5},{"p":"b","c":"b16","s":"pos","x":135,"y":2},{"p":"b","c":"b16","s":"pos","x":134,"y":-2},{"p":"b","c":"b16","s":"pos","x":133,"y":-5},{"p":"b","c":"b16","s":"pos","x":131,"y":-1},
{"p":"b","c":"b17","s":"pos","x":109,"y":20},{"p":"b","c":"b17","s":"pos","x":110,"y":17.5},{"p":"b","c":"b17","s":"pos","x":112.5,"y":16.5},{"p":"b","c":"b17","s":"pos","x":115,"y":18},{"p":"b","c":"b17","s":"pos","x":115.5,"y":20},
{"p":"b","c":"b18","s":"neg","x":140,"y":19},{"p":"b","c":"b18","s":"neg","x":143,"y":16.5},{"p":"b","c":"b18","s":"neg","x":146,"y":16},{"p":"b","c":"b18","s":"neg","x":149,"y":18},{"p":"b","c":"b18","s":"neg","x":152,"y":17},{"p":"b","c":"b18","s":"neg","x":155,"y":19},
{"p":"b","c":"b19","s":"pos","x":159,"y":2.5},{"p":"b","c":"b19","s":"pos","x":160.5,"y":1},{"p":"b","c":"b19","s":"pos","x":161,"y":-3.5},{"p":"b","c":"b19","s":"pos","x":159.5,"y":-4},{"p":"b","c":"b19","s":"pos","x":159,"y":0},{"p":"b","c":"b19","s":"pos","x":159,"y":2.5},
{"p":"b","c":"b20","s":"pos","x":164,"y":3.5},{"p":"b","c":"b20","s":"pos","x":171,"y":4},{"p":"b","c":"b20","s":"pos","x":171.5,"y":0},{"p":"b","c":"b20","s":"pos","x":170,"y":-2.5},{"p":"b","c":"b20","s":"pos","x":166,"y":-1},{"p":"b","c":"b20","s":"pos","x":164,"y":1},{"p":"b","c":"b20","s":"pos","x":164,"y":3.5},
{"p":"b","c":"b21","s":"pos","x":185,"y":20},{"p":"b","c":"b21","s":"pos","x":186,"y":17.5},{"p":"b","c":"b21","s":"pos","x":189,"y":17},{"p":"b","c":"b21","s":"pos","x":190.5,"y":20},
{"p":"b","c":"b22","s":"neg","x":197,"y":14.5},{"p":"b","c":"b22","s":"neg","x":202.5,"y":12.5},{"p":"b","c":"b22","s":"neg","x":202,"y":0},{"p":"b","c":"b22","s":"neg","x":200,"y":-5},{"p":"b","c":"b22","s":"neg","x":196,"y":-12},{"p":"b","c":"b22","s":"neg","x":192,"y":-16.5},{"p":"b","c":"b22","s":"neg","x":189,"y":-16},{"p":"b","c":"b22","s":"neg","x":185,"y":-10},{"p":"b","c":"b22","s":"neg","x":185,"y":0},{"p":"b","c":"b22","s":"neg","x":186,"y":5},{"p":"b","c":"b22","s":"neg","x":189,"y":8},{"p":"b","c":"b22","s":"neg","x":192,"y":12},{"p":"b","c":"b22","s":"neg","x":197,"y":14.5},
{"p":"b","c":"b23","s":"neg","x":195,"y":9},{"p":"b","c":"b23","s":"neg","x":193,"y":3},{"p":"b","c":"b23","s":"neg","x":191,"y":-3},{"p":"b","c":"b23","s":"neg","x":190.5,"y":-8},{"p":"b","c":"b23","s":"neg","x":192,"y":-10},{"p":"b","c":"b23","s":"neg","x":194,"y":-3},{"p":"b","c":"b23","s":"neg","x":196,"y":3},{"p":"b","c":"b23","s":"neg","x":195,"y":9},
{"p":"b","c":"b24","s":"pos","x":196,"y":-20},{"p":"b","c":"b24","s":"pos","x":197.5,"y":-17},{"p":"b","c":"b24","s":"pos","x":199,"y":-20},
{"p":"b","c":"b25","s":"pos","x":214,"y":-20},{"p":"b","c":"b25","s":"pos","x":215,"y":-8},{"p":"b","c":"b25","s":"pos","x":214,"y":0},{"p":"b","c":"b25","s":"pos","x":215,"y":8},{"p":"b","c":"b25","s":"pos","x":217,"y":12},{"p":"b","c":"b25","s":"pos","x":221,"y":12},{"p":"b","c":"b25","s":"pos","x":222,"y":6},{"p":"b","c":"b25","s":"pos","x":223,"y":3},{"p":"b","c":"b25","s":"pos","x":226,"y":4},{"p":"b","c":"b25","s":"pos","x":232,"y":6},{"p":"b","c":"b25","s":"pos","x":236,"y":3},{"p":"b","c":"b25","s":"pos","x":240,"y":6},{"p":"b","c":"b25","s":"pos","x":243,"y":8},{"p":"b","c":"b25","s":"pos","x":246,"y":2},{"p":"b","c":"b25","s":"pos","x":245,"y":-6},{"p":"b","c":"b25","s":"pos","x":244,"y":-20},
{"p":"b","c":"b26","s":"pos","x":226,"y":-20},{"p":"b","c":"b26","s":"pos","x":226,"y":-7},{"p":"b","c":"b26","s":"pos","x":227,"y":-2},{"p":"b","c":"b26","s":"pos","x":232,"y":-1},{"p":"b","c":"b26","s":"pos","x":236,"y":-1},{"p":"b","c":"b26","s":"pos","x":239,"y":-5},{"p":"b","c":"b26","s":"pos","x":241,"y":-3},{"p":"b","c":"b26","s":"pos","x":243,"y":-2},{"p":"b","c":"b26","s":"pos","x":242,"y":-10},{"p":"b","c":"b26","s":"pos","x":241,"y":-20},
{"p":"b","c":"b27","s":"pos","x":230,"y":-20},{"p":"b","c":"b27","s":"pos","x":232,"y":-15},{"p":"b","c":"b27","s":"pos","x":235,"y":-17},{"p":"b","c":"b27","s":"pos","x":237,"y":-20},
{"p":"b","c":"b28","s":"pos","x":250,"y":20},{"p":"b","c":"b28","s":"pos","x":250.5,"y":0},{"p":"b","c":"b28","s":"pos","x":250.5,"y":-20},
{"p":"b","c":"b29","s":"neg","x":238,"y":20},{"p":"b","c":"b29","s":"neg","x":239,"y":16},{"p":"b","c":"b29","s":"neg","x":241,"y":15},{"p":"b","c":"b29","s":"neg","x":244,"y":17},{"p":"b","c":"b29","s":"neg","x":245,"y":20},
{"p":"b","c":"b30","s":"neg","x":223,"y":20},{"p":"b","c":"b30","s":"neg","x":223.5,"y":12},{"p":"b","c":"b30","s":"neg","x":225,"y":8},
{"p":"b","c":"b31","s":"neg","x":231,"y":13},{"p":"b","c":"b31","s":"neg","x":233,"y":15},{"p":"b","c":"b31","s":"neg","x":237,"y":14},{"p":"b","c":"b31","s":"neg","x":239,"y":12},
{"p":"b","c":"b32","s":"pos","x":253,"y":20},{"p":"b","c":"b32","s":"pos","x":254,"y":13},{"p":"b","c":"b32","s":"pos","x":256,"y":12},{"p":"b","c":"b32","s":"pos","x":258,"y":15},{"p":"b","c":"b32","s":"pos","x":260,"y":13},{"p":"b","c":"b32","s":"pos","x":263,"y":14},{"p":"b","c":"b32","s":"pos","x":265,"y":8},{"p":"b","c":"b32","s":"pos","x":266,"y":2},{"p":"b","c":"b32","s":"pos","x":266,"y":-3},{"p":"b","c":"b32","s":"pos","x":270,"y":-3},{"p":"b","c":"b32","s":"pos","x":273,"y":-7},{"p":"b","c":"b32","s":"pos","x":275,"y":-10},{"p":"b","c":"b32","s":"pos","x":277,"y":0},{"p":"b","c":"b32","s":"pos","x":278,"y":5},{"p":"b","c":"b32","s":"pos","x":280,"y":20},
{"p":"b","c":"b33","s":"pos","x":254,"y":-5},{"p":"b","c":"b33","s":"pos","x":255,"y":5},{"p":"b","c":"b33","s":"pos","x":256,"y":10},{"p":"b","c":"b33","s":"pos","x":260,"y":9},{"p":"b","c":"b33","s":"pos","x":262,"y":6},{"p":"b","c":"b33","s":"pos","x":262,"y":-2},{"p":"b","c":"b33","s":"pos","x":264,"y":-6},{"p":"b","c":"b33","s":"pos","x":266,"y":-11},{"p":"b","c":"b33","s":"pos","x":262,"y":-13},{"p":"b","c":"b33","s":"pos","x":258,"y":-10},{"p":"b","c":"b33","s":"pos","x":255,"y":-8},{"p":"b","c":"b33","s":"pos","x":254,"y":-5},
{"p":"b","c":"b34","s":"neg","x":266,"y":-20},{"p":"b","c":"b34","s":"neg","x":267,"y":-14},{"p":"b","c":"b34","s":"neg","x":267.5,"y":-10},
{"p":"b","c":"b35","s":"neg","x":280,"y":2},{"p":"b","c":"b35","s":"neg","x":281.5,"y":-5},{"p":"b","c":"b35","s":"neg","x":281.5,"y":-13},{"p":"b","c":"b35","s":"neg","x":281,"y":-19},{"p":"b","c":"b35","s":"neg","x":279.5,"y":-14},{"p":"b","c":"b35","s":"neg","x":279,"y":-5},{"p":"b","c":"b35","s":"neg","x":280,"y":2},
{"p":"b","c":"b36","s":"neg","x":265,"y":20},{"p":"b","c":"b36","s":"neg","x":267,"y":18.5},{"p":"b","c":"b36","s":"neg","x":270,"y":20},
{"p":"b","c":"b37","s":"pos","x":222.5,"y":4},{"p":"b","c":"b37","s":"pos","x":223.5,"y":1},{"p":"b","c":"b37","s":"pos","x":222.5,"y":-1.5},{"p":"b","c":"b37","s":"pos","x":221.8,"y":1},{"p":"b","c":"b37","s":"pos","x":222.5,"y":4},
{"p":"b","c":"b40","s":"pos","x":253,"y":-20},{"p":"b","c":"b40","s":"pos","x":254.5,"y":-17.5},{"p":"b","c":"b40","s":"pos","x":256,"y":-20},

{"p":"c","c":"c1","s":"pos","x":46,"y":-20},{"p":"c","c":"c1","s":"pos","x":47,"y":-12},{"p":"c","c":"c1","s":"pos","x":49,"y":-5},{"p":"c","c":"c1","s":"pos","x":51,"y":-1.5},{"p":"c","c":"c1","s":"pos","x":55,"y":-0.8},{"p":"c","c":"c1","s":"pos","x":65,"y":-1},{"p":"c","c":"c1","s":"pos","x":75,"y":-1.5},{"p":"c","c":"c1","s":"pos","x":80,"y":-2.5},{"p":"c","c":"c1","s":"pos","x":85,"y":-1.5},{"p":"c","c":"c1","s":"pos","x":92,"y":-1},{"p":"c","c":"c1","s":"pos","x":97,"y":-2},{"p":"c","c":"c1","s":"pos","x":100,"y":-5},{"p":"c","c":"c1","s":"pos","x":103,"y":-1.5},{"p":"c","c":"c1","s":"pos","x":108,"y":-1},{"p":"c","c":"c1","s":"pos","x":113,"y":-5},{"p":"c","c":"c1","s":"pos","x":117,"y":-1.5},{"p":"c","c":"c1","s":"pos","x":125,"y":-2},{"p":"c","c":"c1","s":"pos","x":130,"y":-1.2},{"p":"c","c":"c1","s":"pos","x":140,"y":-1.5},{"p":"c","c":"c1","s":"pos","x":150,"y":-1.2},{"p":"c","c":"c1","s":"pos","x":165,"y":-1.5},{"p":"c","c":"c1","s":"pos","x":180,"y":-2},{"p":"c","c":"c1","s":"pos","x":192,"y":-3.5},{"p":"c","c":"c1","s":"pos","x":202,"y":-7},{"p":"c","c":"c1","s":"pos","x":206,"y":-13},{"p":"c","c":"c1","s":"pos","x":205,"y":-20},
{"p":"c","c":"c2","s":"pos","x":50,"y":-20},{"p":"c","c":"c2","s":"pos","x":51,"y":-12},{"p":"c","c":"c2","s":"pos","x":53,"y":-4},{"p":"c","c":"c2","s":"pos","x":56,"y":-2},{"p":"c","c":"c2","s":"pos","x":65,"y":-2},{"p":"c","c":"c2","s":"pos","x":75,"y":-2.5},{"p":"c","c":"c2","s":"pos","x":80,"y":-3.5},{"p":"c","c":"c2","s":"pos","x":85,"y":-2.5},{"p":"c","c":"c2","s":"pos","x":92,"y":-2.2},{"p":"c","c":"c2","s":"pos","x":97,"y":-3},{"p":"c","c":"c2","s":"pos","x":100,"y":-7},{"p":"c","c":"c2","s":"pos","x":103,"y":-3},{"p":"c","c":"c2","s":"pos","x":108,"y":-2.3},{"p":"c","c":"c2","s":"pos","x":113,"y":-6.5},{"p":"c","c":"c2","s":"pos","x":117,"y":-3},{"p":"c","c":"c2","s":"pos","x":125,"y":-4},{"p":"c","c":"c2","s":"pos","x":130,"y":-2.5},{"p":"c","c":"c2","s":"pos","x":140,"y":-2.8},{"p":"c","c":"c2","s":"pos","x":150,"y":-2.5},{"p":"c","c":"c2","s":"pos","x":165,"y":-2.8},{"p":"c","c":"c2","s":"pos","x":180,"y":-3.5},{"p":"c","c":"c2","s":"pos","x":190,"y":-5.5},{"p":"c","c":"c2","s":"pos","x":196,"y":-10},{"p":"c","c":"c2","s":"pos","x":195,"y":-15},{"p":"c","c":"c2","s":"pos","x":190,"y":-18},{"p":"c","c":"c2","s":"pos","x":178,"y":-19},{"p":"c","c":"c2","s":"pos","x":160,"y":-18.5},{"p":"c","c":"c2","s":"pos","x":145,"y":-19},{"p":"c","c":"c2","s":"pos","x":130,"y":-19.5},{"p":"c","c":"c2","s":"pos","x":115,"y":-19},{"p":"c","c":"c2","s":"pos","x":105,"y":-19.5},{"p":"c","c":"c2","s":"pos","x":95,"y":-19.5},{"p":"c","c":"c2","s":"pos","x":85,"y":-18.5},{"p":"c","c":"c2","s":"pos","x":75,"y":-19},{"p":"c","c":"c2","s":"pos","x":65,"y":-18.5},{"p":"c","c":"c2","s":"pos","x":57,"y":-18},{"p":"c","c":"c2","s":"pos","x":52,"y":-20},
{"p":"c","c":"c3","s":"pos","x":53,"y":-10},{"p":"c","c":"c3","s":"pos","x":54,"y":-5},{"p":"c","c":"c3","s":"pos","x":58,"y":-3},{"p":"c","c":"c3","s":"pos","x":65,"y":-3},{"p":"c","c":"c3","s":"pos","x":75,"y":-3.5},{"p":"c","c":"c3","s":"pos","x":80,"y":-4.5},{"p":"c","c":"c3","s":"pos","x":85,"y":-3.5},{"p":"c","c":"c3","s":"pos","x":92,"y":-3.2},{"p":"c","c":"c3","s":"pos","x":97,"y":-4},{"p":"c","c":"c3","s":"pos","x":100,"y":-8.5},{"p":"c","c":"c3","s":"pos","x":103,"y":-4},{"p":"c","c":"c3","s":"pos","x":108,"y":-3.5},{"p":"c","c":"c3","s":"pos","x":113,"y":-8},{"p":"c","c":"c3","s":"pos","x":117,"y":-4},{"p":"c","c":"c3","s":"pos","x":125,"y":-5.5},{"p":"c","c":"c3","s":"pos","x":130,"y":-3.5},{"p":"c","c":"c3","s":"pos","x":140,"y":-3.8},{"p":"c","c":"c3","s":"pos","x":150,"y":-3.5},{"p":"c","c":"c3","s":"pos","x":165,"y":-4},{"p":"c","c":"c3","s":"pos","x":178,"y":-4.5},{"p":"c","c":"c3","s":"pos","x":186,"y":-7},{"p":"c","c":"c3","s":"pos","x":189,"y":-10},{"p":"c","c":"c3","s":"pos","x":187,"y":-14},{"p":"c","c":"c3","s":"pos","x":180,"y":-16.5},{"p":"c","c":"c3","s":"pos","x":165,"y":-17},{"p":"c","c":"c3","s":"pos","x":150,"y":-17},{"p":"c","c":"c3","s":"pos","x":135,"y":-17.5},{"p":"c","c":"c3","s":"pos","x":120,"y":-17.5},{"p":"c","c":"c3","s":"pos","x":108,"y":-17},{"p":"c","c":"c3","s":"pos","x":100,"y":-18},{"p":"c","c":"c3","s":"pos","x":90,"y":-17.5},{"p":"c","c":"c3","s":"pos","x":80,"y":-17},{"p":"c","c":"c3","s":"pos","x":70,"y":-17.5},{"p":"c","c":"c3","s":"pos","x":60,"y":-16.5},{"p":"c","c":"c3","s":"pos","x":55,"y":-15},{"p":"c","c":"c3","s":"pos","x":53,"y":-10},
{"p":"c","c":"c4","s":"pos","x":55,"y":-9},{"p":"c","c":"c4","s":"pos","x":56,"y":-5},{"p":"c","c":"c4","s":"pos","x":60,"y":-4.3},{"p":"c","c":"c4","s":"pos","x":70,"y":-4.3},{"p":"c","c":"c4","s":"pos","x":78,"y":-5},{"p":"c","c":"c4","s":"pos","x":85,"y":-4.5},{"p":"c","c":"c4","s":"pos","x":95,"y":-4.8},{"p":"c","c":"c4","s":"pos","x":99,"y":-9.5},{"p":"c","c":"c4","s":"pos","x":103,"y":-6},{"p":"c","c":"c4","s":"pos","x":110,"y":-6},{"p":"c","c":"c4","s":"pos","x":113,"y":-9},{"p":"c","c":"c4","s":"pos","x":117,"y":-6},{"p":"c","c":"c4","s":"pos","x":125,"y":-7},{"p":"c","c":"c4","s":"pos","x":130,"y":-5},{"p":"c","c":"c4","s":"pos","x":140,"y":-4.8},{"p":"c","c":"c4","s":"pos","x":155,"y":-4.8},{"p":"c","c":"c4","s":"pos","x":170,"y":-5},{"p":"c","c":"c4","s":"pos","x":178,"y":-6},{"p":"c","c":"c4","s":"pos","x":180,"y":-10},{"p":"c","c":"c4","s":"pos","x":178,"y":-14},{"p":"c","c":"c4","s":"pos","x":170,"y":-15.5},{"p":"c","c":"c4","s":"pos","x":155,"y":-15.2},{"p":"c","c":"c4","s":"pos","x":140,"y":-15.5},{"p":"c","c":"c4","s":"pos","x":125,"y":-15.8},{"p":"c","c":"c4","s":"pos","x":115,"y":-15.5},{"p":"c","c":"c4","s":"pos","x":105,"y":-16},{"p":"c","c":"c4","s":"pos","x":95,"y":-16.3},{"p":"c","c":"c4","s":"pos","x":80,"y":-15.8},{"p":"c","c":"c4","s":"pos","x":70,"y":-15},{"p":"c","c":"c4","s":"pos","x":60,"y":-13.5},{"p":"c","c":"c4","s":"pos","x":55,"y":-12},{"p":"c","c":"c4","s":"pos","x":55,"y":-9},
{"p":"c","c":"c5","s":"pos","x":57,"y":-7},{"p":"c","c":"c5","s":"pos","x":58.5,"y":-9},{"p":"c","c":"c5","s":"pos","x":57.5,"y":-11},{"p":"c","c":"c5","s":"pos","x":56,"y":-9},{"p":"c","c":"c5","s":"pos","x":57,"y":-7},
{"p":"c","c":"c6","s":"pos","x":61,"y":-7.5},{"p":"c","c":"c6","s":"pos","x":62,"y":-9},{"p":"c","c":"c6","s":"pos","x":61,"y":-11},{"p":"c","c":"c6","s":"pos","x":60,"y":-9},{"p":"c","c":"c6","s":"pos","x":61,"y":-7.5},
{"p":"c","c":"c7","s":"pos","x":70,"y":-7},{"p":"c","c":"c7","s":"pos","x":75,"y":-7.5},{"p":"c","c":"c7","s":"pos","x":78,"y":-9},{"p":"c","c":"c7","s":"pos","x":77,"y":-11},{"p":"c","c":"c7","s":"pos","x":72,"y":-11.5},{"p":"c","c":"c7","s":"pos","x":69,"y":-10},{"p":"c","c":"c7","s":"pos","x":70,"y":-7},
{"p":"c","c":"c8","s":"pos","x":88,"y":-6},{"p":"c","c":"c8","s":"pos","x":93,"y":-7},{"p":"c","c":"c8","s":"pos","x":95,"y":-10},{"p":"c","c":"c8","s":"pos","x":93,"y":-12.5},{"p":"c","c":"c8","s":"pos","x":89,"y":-12},{"p":"c","c":"c8","s":"pos","x":86,"y":-9},{"p":"c","c":"c8","s":"pos","x":88,"y":-6},
{"p":"c","c":"c9","s":"pos","x":108,"y":-9},{"p":"c","c":"c9","s":"pos","x":114,"y":-8},{"p":"c","c":"c9","s":"pos","x":118,"y":-9},{"p":"c","c":"c9","s":"pos","x":120,"y":-12},{"p":"c","c":"c9","s":"pos","x":117,"y":-14.5},{"p":"c","c":"c9","s":"pos","x":111,"y":-14},{"p":"c","c":"c9","s":"pos","x":108,"y":-11},{"p":"c","c":"c9","s":"pos","x":108,"y":-9},
{"p":"c","c":"c10","s":"pos","x":137,"y":-7},{"p":"c","c":"c10","s":"pos","x":146,"y":-7},{"p":"c","c":"c10","s":"pos","x":150,"y":-9},{"p":"c","c":"c10","s":"pos","x":149,"y":-12.5},{"p":"c","c":"c10","s":"pos","x":140,"y":-13.5},{"p":"c","c":"c10","s":"pos","x":135,"y":-11},{"p":"c","c":"c10","s":"pos","x":137,"y":-7},
{"p":"c","c":"c11","s":"pos","x":157,"y":-6},{"p":"c","c":"c11","s":"pos","x":165,"y":-6},{"p":"c","c":"c11","s":"pos","x":172,"y":-7},{"p":"c","c":"c11","s":"pos","x":174,"y":-10},{"p":"c","c":"c11","s":"pos","x":171,"y":-12.5},{"p":"c","c":"c11","s":"pos","x":162,"y":-13},{"p":"c","c":"c11","s":"pos","x":156,"y":-11},{"p":"c","c":"c11","s":"pos","x":157,"y":-6},
{"p":"c","c":"c12","s":"pos","x":159,"y":-7.5},{"p":"c","c":"c12","s":"pos","x":161,"y":-9},{"p":"c","c":"c12","s":"pos","x":160,"y":-12},{"p":"c","c":"c12","s":"pos","x":158,"y":-12},{"p":"c","c":"c12","s":"pos","x":157.5,"y":-9.5},{"p":"c","c":"c12","s":"pos","x":159,"y":-7.5},
{"p":"c","c":"c14","s":"pos","x":211,"y":-20},{"p":"c","c":"c14","s":"pos","x":212,"y":-10},{"p":"c","c":"c14","s":"pos","x":213.5,"y":-4},{"p":"c","c":"c14","s":"pos","x":216,"y":-6},{"p":"c","c":"c14","s":"pos","x":217,"y":-12},{"p":"c","c":"c14","s":"pos","x":217,"y":-20},
{"p":"c","c":"c15","s":"pos","x":225,"y":-20},{"p":"c","c":"c15","s":"pos","x":224,"y":-8},{"p":"c","c":"c15","s":"pos","x":226,"y":-1},{"p":"c","c":"c15","s":"pos","x":235,"y":-0.5},{"p":"c","c":"c15","s":"pos","x":245,"y":-0.5},{"p":"c","c":"c15","s":"pos","x":255,"y":-1},{"p":"c","c":"c15","s":"pos","x":265,"y":-2.5},{"p":"c","c":"c15","s":"pos","x":272,"y":-4.5},{"p":"c","c":"c15","s":"pos","x":280,"y":-5},{"p":"c","c":"c15","s":"pos","x":283,"y":-9},{"p":"c","c":"c15","s":"pos","x":282,"y":-14},{"p":"c","c":"c15","s":"pos","x":275,"y":-16},{"p":"c","c":"c15","s":"pos","x":268,"y":-18},{"p":"c","c":"c15","s":"pos","x":258,"y":-17.5},{"p":"c","c":"c15","s":"pos","x":250,"y":-18.5},{"p":"c","c":"c15","s":"pos","x":240,"y":-19},{"p":"c","c":"c15","s":"pos","x":233,"y":-19.5},{"p":"c","c":"c15","s":"pos","x":228,"y":-20},
{"p":"c","c":"c16","s":"pos","x":227,"y":-10},{"p":"c","c":"c16","s":"pos","x":228,"y":-3},{"p":"c","c":"c16","s":"pos","x":235,"y":-2.5},{"p":"c","c":"c16","s":"pos","x":245,"y":-3},{"p":"c","c":"c16","s":"pos","x":255,"y":-3},{"p":"c","c":"c16","s":"pos","x":263,"y":-3.5},{"p":"c","c":"c16","s":"pos","x":270,"y":-5.5},{"p":"c","c":"c16","s":"pos","x":278,"y":-6.5},{"p":"c","c":"c16","s":"pos","x":281,"y":-9},{"p":"c","c":"c16","s":"pos","x":280,"y":-13},{"p":"c","c":"c16","s":"pos","x":273,"y":-15},{"p":"c","c":"c16","s":"pos","x":262,"y":-16.5},{"p":"c","c":"c16","s":"pos","x":250,"y":-16.5},{"p":"c","c":"c16","s":"pos","x":240,"y":-17},{"p":"c","c":"c16","s":"pos","x":230,"y":-16.5},{"p":"c","c":"c16","s":"pos","x":227,"y":-10},
{"p":"c","c":"c17","s":"pos","x":230,"y":-9},{"p":"c","c":"c17","s":"pos","x":231,"y":-4.5},{"p":"c","c":"c17","s":"pos","x":240,"y":-4.5},{"p":"c","c":"c17","s":"pos","x":250,"y":-5},{"p":"c","c":"c17","s":"pos","x":258,"y":-4.5},{"p":"c","c":"c17","s":"pos","x":265,"y":-5.5},{"p":"c","c":"c17","s":"pos","x":270,"y":-7},{"p":"c","c":"c17","s":"pos","x":276,"y":-7.5},{"p":"c","c":"c17","s":"pos","x":279,"y":-9.5},{"p":"c","c":"c17","s":"pos","x":278,"y":-12.5},{"p":"c","c":"c17","s":"pos","x":271,"y":-13},{"p":"c","c":"c17","s":"pos","x":262,"y":-14},{"p":"c","c":"c17","s":"pos","x":250,"y":-14.5},{"p":"c","c":"c17","s":"pos","x":240,"y":-15},{"p":"c","c":"c17","s":"pos","x":232,"y":-14},{"p":"c","c":"c17","s":"pos","x":230,"y":-9},
{"p":"c","c":"c18","s":"pos","x":232.5,"y":-5.5},{"p":"c","c":"c18","s":"pos","x":233.5,"y":-8},{"p":"c","c":"c18","s":"pos","x":232.5,"y":-10.5},{"p":"c","c":"c18","s":"pos","x":231.5,"y":-8},{"p":"c","c":"c18","s":"pos","x":232.5,"y":-5.5},
{"p":"c","c":"c19","s":"pos","x":261,"y":-5.5},{"p":"c","c":"c19","s":"pos","x":263,"y":-8},{"p":"c","c":"c19","s":"pos","x":262,"y":-12},{"p":"c","c":"c19","s":"pos","x":260,"y":-12.5},{"p":"c","c":"c19","s":"pos","x":259,"y":-9},{"p":"c","c":"c19","s":"pos","x":261,"y":-5.5},
{"p":"c","c":"c20","s":"pos","x":261.5,"y":-7.5},{"p":"c","c":"c20","s":"pos","x":262,"y":-9.5},{"p":"c","c":"c20","s":"pos","x":261,"y":-11},{"p":"c","c":"c20","s":"pos","x":260.5,"y":-9},{"p":"c","c":"c20","s":"pos","x":261.5,"y":-7.5},
{"p":"c","c":"c21","s":"pos","x":271.5,"y":-7},{"p":"c","c":"c21","s":"pos","x":272.5,"y":-9.5},{"p":"c","c":"c21","s":"pos","x":271.5,"y":-12},{"p":"c","c":"c21","s":"pos","x":270.5,"y":-9.5},{"p":"c","c":"c21","s":"pos","x":271.5,"y":-7},
{"p":"c","c":"c22","s":"pos","x":278,"y":-6.5},{"p":"c","c":"c22","s":"pos","x":279.5,"y":-9.5},{"p":"c","c":"c22","s":"pos","x":278.5,"y":-12.5},{"p":"c","c":"c22","s":"pos","x":277,"y":-9.5},{"p":"c","c":"c22","s":"pos","x":278,"y":-6.5},
{"p":"c","c":"c23","s":"pos","x":92,"y":20},{"p":"c","c":"c23","s":"pos","x":94,"y":15},{"p":"c","c":"c23","s":"pos","x":97,"y":16.5},{"p":"c","c":"c23","s":"pos","x":99,"y":15},{"p":"c","c":"c23","s":"pos","x":101,"y":17},{"p":"c","c":"c23","s":"pos","x":102,"y":20},
{"p":"c","c":"c24","s":"pos","x":133,"y":20},{"p":"c","c":"c24","s":"pos","x":136,"y":18},{"p":"c","c":"c24","s":"pos","x":140,"y":17.5},{"p":"c","c":"c24","s":"pos","x":143,"y":20},
{"p":"c","c":"c25","s":"pos","x":40,"y":8.5},{"p":"c","c":"c25","s":"pos","x":40.8,"y":5},{"p":"c","c":"c25","s":"pos","x":41,"y":2},{"p":"c","c":"c25","s":"pos","x":40.8,"y":-2},{"p":"c","c":"c25","s":"pos","x":40,"y":-4.5},{"p":"c","c":"c25","s":"pos","x":39.2,"y":-2},{"p":"c","c":"c25","s":"pos","x":39,"y":2},{"p":"c","c":"c25","s":"pos","x":39.2,"y":5},{"p":"c","c":"c25","s":"pos","x":40,"y":8.5},
{"p":"c","c":"c26","s":"pos","x":40,"y":7},{"p":"c","c":"c26","s":"pos","x":40.5,"y":4},{"p":"c","c":"c26","s":"pos","x":40.5,"y":0},{"p":"c","c":"c26","s":"pos","x":40,"y":-3},{"p":"c","c":"c26","s":"pos","x":39.5,"y":0},{"p":"c","c":"c26","s":"pos","x":39.5,"y":4},{"p":"c","c":"c26","s":"pos","x":40,"y":7},
{"p":"c","c":"c27","s":"pos","x":40,"y":-8.5},{"p":"c","c":"c27","s":"pos","x":40.8,"y":-11},{"p":"c","c":"c27","s":"pos","x":41,"y":-14},{"p":"c","c":"c27","s":"pos","x":40.5,"y":-17},{"p":"c","c":"c27","s":"pos","x":40,"y":-18},{"p":"c","c":"c27","s":"pos","x":39.5,"y":-15},{"p":"c","c":"c27","s":"pos","x":39.3,"y":-11},{"p":"c","c":"c27","s":"pos","x":40,"y":-8.5},
{"p":"c","c":"c28","s":"pos","x":40,"y":-10},{"p":"c","c":"c28","s":"pos","x":40.4,"y":-13},{"p":"c","c":"c28","s":"pos","x":40,"y":-16},{"p":"c","c":"c28","s":"pos","x":39.7,"y":-13},{"p":"c","c":"c28","s":"pos","x":40,"y":-10},
{"p":"c","c":"c29","s":"pos","x":40,"y":5},{"p":"c","c":"c29","s":"pos","x":40.2,"y":2},{"p":"c","c":"c29","s":"pos","x":40,"y":-1},{"p":"c","c":"c29","s":"pos","x":39.8,"y":2},{"p":"c","c":"c29","s":"pos","x":40,"y":5},
{"p":"c","c":"c40","s":"neg","x":42,"y":16},{"p":"c","c":"c40","s":"neg","x":44,"y":10},{"p":"c","c":"c40","s":"neg","x":47,"y":5},{"p":"c","c":"c40","s":"neg","x":52,"y":1.5},{"p":"c","c":"c40","s":"neg","x":57,"y":0.5},
{"p":"c","c":"c41","s":"neg","x":49,"y":20},{"p":"c","c":"c41","s":"neg","x":52,"y":11},{"p":"c","c":"c41","s":"neg","x":58,"y":5},{"p":"c","c":"c41","s":"neg","x":65,"y":2.5},{"p":"c","c":"c41","s":"neg","x":75,"y":2},{"p":"c","c":"c41","s":"neg","x":85,"y":2},{"p":"c","c":"c41","s":"neg","x":95,"y":2},{"p":"c","c":"c41","s":"neg","x":103,"y":1},{"p":"c","c":"c41","s":"neg","x":106,"y":5},{"p":"c","c":"c41","s":"neg","x":106,"y":12},{"p":"c","c":"c41","s":"neg","x":104,"y":17},{"p":"c","c":"c41","s":"neg","x":100,"y":20},
{"p":"c","c":"c42","s":"neg","x":60,"y":16},{"p":"c","c":"c42","s":"neg","x":58,"y":12},{"p":"c","c":"c42","s":"neg","x":62,"y":8},{"p":"c","c":"c42","s":"neg","x":68,"y":6},{"p":"c","c":"c42","s":"neg","x":78,"y":5.5},{"p":"c","c":"c42","s":"neg","x":88,"y":4.5},{"p":"c","c":"c42","s":"neg","x":97,"y":4},{"p":"c","c":"c42","s":"neg","x":102,"y":6},{"p":"c","c":"c42","s":"neg","x":103,"y":10},{"p":"c","c":"c42","s":"neg","x":100,"y":14},{"p":"c","c":"c42","s":"neg","x":92,"y":15},{"p":"c","c":"c42","s":"neg","x":82,"y":16},{"p":"c","c":"c42","s":"neg","x":72,"y":15.5},{"p":"c","c":"c42","s":"neg","x":65,"y":17},{"p":"c","c":"c42","s":"neg","x":60,"y":16},
{"p":"c","c":"c43","s":"neg","x":65,"y":13},{"p":"c","c":"c43","s":"neg","x":64,"y":9},{"p":"c","c":"c43","s":"neg","x":70,"y":7.5},{"p":"c","c":"c43","s":"neg","x":80,"y":7},{"p":"c","c":"c43","s":"neg","x":90,"y":6.5},{"p":"c","c":"c43","s":"neg","x":98,"y":6.5},{"p":"c","c":"c43","s":"neg","x":100,"y":9},{"p":"c","c":"c43","s":"neg","x":97,"y":12},{"p":"c","c":"c43","s":"neg","x":88,"y":12.5},{"p":"c","c":"c43","s":"neg","x":78,"y":13},{"p":"c","c":"c43","s":"neg","x":70,"y":13.5},{"p":"c","c":"c43","s":"neg","x":65,"y":13},
{"p":"c","c":"c44","s":"neg","x":70,"y":9},{"p":"c","c":"c44","s":"neg","x":72,"y":8},{"p":"c","c":"c44","s":"neg","x":74,"y":9},{"p":"c","c":"c44","s":"neg","x":72,"y":10.5},{"p":"c","c":"c44","s":"neg","x":70,"y":9},
{"p":"c","c":"c45","s":"neg","x":85,"y":10},{"p":"c","c":"c45","s":"neg","x":88,"y":9},{"p":"c","c":"c45","s":"neg","x":90,"y":10},{"p":"c","c":"c45","s":"neg","x":88,"y":11},{"p":"c","c":"c45","s":"neg","x":85,"y":10},
{"p":"c","c":"c46","s":"neg","x":56,"y":20},{"p":"c","c":"c46","s":"neg","x":60,"y":18.5},{"p":"c","c":"c46","s":"neg","x":66,"y":19},{"p":"c","c":"c46","s":"neg","x":72,"y":17.5},{"p":"c","c":"c46","s":"neg","x":80,"y":18.5},{"p":"c","c":"c46","s":"neg","x":88,"y":18},{"p":"c","c":"c46","s":"neg","x":95,"y":17},
{"p":"c","c":"c48","s":"neg","x":113,"y":18},{"p":"c","c":"c48","s":"neg","x":112,"y":12},{"p":"c","c":"c48","s":"neg","x":111,"y":5},{"p":"c","c":"c48","s":"neg","x":110,"y":1},
{"p":"c","c":"c49","s":"neg","x":112,"y":1},{"p":"c","c":"c49","s":"neg","x":116,"y":8},{"p":"c","c":"c49","s":"neg","x":120,"y":14},{"p":"c","c":"c49","s":"neg","x":128,"y":17},{"p":"c","c":"c49","s":"neg","x":138,"y":17.5},{"p":"c","c":"c49","s":"neg","x":150,"y":18},{"p":"c","c":"c49","s":"neg","x":165,"y":17.5},{"p":"c","c":"c49","s":"neg","x":180,"y":15},{"p":"c","c":"c49","s":"neg","x":190,"y":11},{"p":"c","c":"c49","s":"neg","x":193,"y":6},{"p":"c","c":"c49","s":"neg","x":191,"y":2},{"p":"c","c":"c49","s":"neg","x":185,"y":0.5},
{"p":"c","c":"c50","s":"neg","x":115,"y":3},{"p":"c","c":"c50","s":"neg","x":118,"y":9},{"p":"c","c":"c50","s":"neg","x":125,"y":13.5},{"p":"c","c":"c50","s":"neg","x":135,"y":14.5},{"p":"c","c":"c50","s":"neg","x":145,"y":15},{"p":"c","c":"c50","s":"neg","x":160,"y":15},{"p":"c","c":"c50","s":"neg","x":172,"y":13.5},{"p":"c","c":"c50","s":"neg","x":182,"y":11},{"p":"c","c":"c50","s":"neg","x":186,"y":7},{"p":"c","c":"c50","s":"neg","x":184,"y":3},{"p":"c","c":"c50","s":"neg","x":175,"y":1.5},{"p":"c","c":"c50","s":"neg","x":160,"y":1.5},{"p":"c","c":"c50","s":"neg","x":145,"y":1.5},{"p":"c","c":"c50","s":"neg","x":130,"y":2},{"p":"c","c":"c50","s":"neg","x":118,"y":1.5},{"p":"c","c":"c50","s":"neg","x":115,"y":3},
{"p":"c","c":"c51","s":"neg","x":120,"y":5},{"p":"c","c":"c51","s":"neg","x":123,"y":10},{"p":"c","c":"c51","s":"neg","x":132,"y":12},{"p":"c","c":"c51","s":"neg","x":145,"y":12.5},{"p":"c","c":"c51","s":"neg","x":160,"y":12.5},{"p":"c","c":"c51","s":"neg","x":172,"y":11},{"p":"c","c":"c51","s":"neg","x":177,"y":8},{"p":"c","c":"c51","s":"neg","x":175,"y":4},{"p":"c","c":"c51","s":"neg","x":165,"y":3},{"p":"c","c":"c51","s":"neg","x":150,"y":3},{"p":"c","c":"c51","s":"neg","x":135,"y":3.5},{"p":"c","c":"c51","s":"neg","x":123,"y":3.5},{"p":"c","c":"c51","s":"neg","x":120,"y":5},
{"p":"c","c":"c52","s":"neg","x":130,"y":7},{"p":"c","c":"c52","s":"neg","x":135,"y":9.5},{"p":"c","c":"c52","s":"neg","x":150,"y":10},{"p":"c","c":"c52","s":"neg","x":162,"y":9.5},{"p":"c","c":"c52","s":"neg","x":168,"y":7},{"p":"c","c":"c52","s":"neg","x":160,"y":5},{"p":"c","c":"c52","s":"neg","x":145,"y":5},{"p":"c","c":"c52","s":"neg","x":135,"y":5},{"p":"c","c":"c52","s":"neg","x":130,"y":7},
{"p":"c","c":"c53","s":"neg","x":148,"y":7.5},{"p":"c","c":"c53","s":"neg","x":152,"y":8},{"p":"c","c":"c53","s":"neg","x":155,"y":6.5},{"p":"c","c":"c53","s":"neg","x":150,"y":6},{"p":"c","c":"c53","s":"neg","x":148,"y":7.5},
{"p":"c","c":"c55","s":"neg","x":197,"y":15},{"p":"c","c":"c55","s":"neg","x":199,"y":10},{"p":"c","c":"c55","s":"neg","x":199,"y":5},{"p":"c","c":"c55","s":"neg","x":197,"y":2},
{"p":"c","c":"c57","s":"neg","x":140,"y":20},{"p":"c","c":"c57","s":"neg","x":150,"y":19.6},{"p":"c","c":"c57","s":"neg","x":165,"y":19.2},{"p":"c","c":"c57","s":"neg","x":180,"y":17.5},{"p":"c","c":"c57","s":"neg","x":190,"y":14},
{"p":"c","c":"c58","s":"neg","x":40.5,"y":19},{"p":"c","c":"c58","s":"neg","x":41,"y":15},{"p":"c","c":"c58","s":"neg","x":41.5,"y":11},
{"p":"c","c":"c59","s":"neg","x":55,"y":0.4},{"p":"c","c":"c59","s":"neg","x":65,"y":1},{"p":"c","c":"c59","s":"neg","x":75,"y":0.8},{"p":"c","c":"c59","s":"neg","x":85,"y":1},{"p":"c","c":"c59","s":"neg","x":95,"y":0.8},{"p":"c","c":"c59","s":"neg","x":101,"y":0.5},
{"p":"c","c":"c79","s":"neg","x":117,"y":0.5},{"p":"c","c":"c79","s":"neg","x":130,"y":0.8},{"p":"c","c":"c79","s":"neg","x":145,"y":0.5},{"p":"c","c":"c79","s":"neg","x":160,"y":0.7},{"p":"c","c":"c79","s":"neg","x":175,"y":0.5},{"p":"c","c":"c79","s":"neg","x":184,"y":0.3},
{"p":"c","c":"c60","s":"neg","x":212,"y":0.5},{"p":"c","c":"c60","s":"neg","x":214,"y":5},{"p":"c","c":"c60","s":"neg","x":218,"y":9},{"p":"c","c":"c60","s":"neg","x":220,"y":11},{"p":"c","c":"c60","s":"neg","x":223,"y":13},{"p":"c","c":"c60","s":"neg","x":226,"y":11},{"p":"c","c":"c60","s":"neg","x":229,"y":12},{"p":"c","c":"c60","s":"neg","x":232,"y":10},
{"p":"c","c":"c61","s":"neg","x":233,"y":6.5},{"p":"c","c":"c61","s":"neg","x":233,"y":4},
{"p":"c","c":"c62","s":"neg","x":226,"y":20},{"p":"c","c":"c62","s":"neg","x":228,"y":15},{"p":"c","c":"c62","s":"neg","x":230,"y":9},
{"p":"c","c":"c63","s":"neg","x":235,"y":20},{"p":"c","c":"c63","s":"neg","x":236,"y":16},{"p":"c","c":"c63","s":"neg","x":240,"y":14},
{"p":"c","c":"c64","s":"neg","x":252,"y":14},{"p":"c","c":"c64","s":"neg","x":249,"y":10},{"p":"c","c":"c64","s":"neg","x":249,"y":5},{"p":"c","c":"c64","s":"neg","x":252,"y":2.5},{"p":"c","c":"c64","s":"neg","x":258,"y":1},{"p":"c","c":"c64","s":"neg","x":265,"y":1.5},
{"p":"c","c":"c65","s":"neg","x":256,"y":12},{"p":"c","c":"c65","s":"neg","x":253,"y":9},{"p":"c","c":"c65","s":"neg","x":253,"y":5},{"p":"c","c":"c65","s":"neg","x":256,"y":3},
{"p":"c","c":"c66","s":"neg","x":248,"y":16},{"p":"c","c":"c66","s":"neg","x":252,"y":18},{"p":"c","c":"c66","s":"neg","x":256,"y":17},{"p":"c","c":"c66","s":"neg","x":260,"y":15.5},{"p":"c","c":"c66","s":"neg","x":265,"y":14},{"p":"c","c":"c66","s":"neg","x":270,"y":12},
{"p":"c","c":"c67","s":"neg","x":243,"y":5},{"p":"c","c":"c67","s":"neg","x":246,"y":3},{"p":"c","c":"c67","s":"neg","x":250,"y":1.5},
{"p":"c","c":"c68","s":"neg","x":218,"y":1},{"p":"c","c":"c68","s":"neg","x":221,"y":4},{"p":"c","c":"c68","s":"neg","x":224,"y":2},{"p":"c","c":"c68","s":"neg","x":227,"y":5},{"p":"c","c":"c68","s":"neg","x":230,"y":3},
{"p":"c","c":"c70","s":"pos","x":280,"y":10},{"p":"c","c":"c70","s":"pos","x":282,"y":8},{"p":"c","c":"c70","s":"pos","x":282.5,"y":5},{"p":"c","c":"c70","s":"pos","x":281.5,"y":2},{"p":"c","c":"c70","s":"pos","x":280,"y":1.5},{"p":"c","c":"c70","s":"pos","x":278.5,"y":3},{"p":"c","c":"c70","s":"pos","x":278,"y":6},{"p":"c","c":"c70","s":"pos","x":279,"y":9},{"p":"c","c":"c70","s":"pos","x":280,"y":10},
{"p":"c","c":"c71","s":"pos","x":280,"y":8.5},{"p":"c","c":"c71","s":"pos","x":281.3,"y":6},{"p":"c","c":"c71","s":"pos","x":280.5,"y":3},{"p":"c","c":"c71","s":"pos","x":279.3,"y":5},{"p":"c","c":"c71","s":"pos","x":280,"y":8.5},
{"p":"c","c":"c72","s":"pos","x":277,"y":11},{"p":"c","c":"c72","s":"pos","x":279,"y":12.5},{"p":"c","c":"c72","s":"pos","x":283,"y":10},{"p":"c","c":"c72","s":"pos","x":283.5,"y":4},{"p":"c","c":"c72","s":"pos","x":282,"y":0.5},{"p":"c","c":"c72","s":"pos","x":277,"y":1},{"p":"c","c":"c72","s":"pos","x":275,"y":5},{"p":"c","c":"c72","s":"pos","x":277,"y":11},
{"p":"c","c":"c73","s":"pos","x":279,"y":20},{"p":"c","c":"c73","s":"pos","x":281,"y":20},{"p":"c","c":"c73","s":"pos","x":282,"y":16},{"p":"c","c":"c73","s":"pos","x":281,"y":13},{"p":"c","c":"c73","s":"pos","x":279,"y":13},{"p":"c","c":"c73","s":"pos","x":278,"y":16},{"p":"c","c":"c73","s":"pos","x":279,"y":20},
{"p":"c","c":"c74","s":"pos","x":280,"y":20},{"p":"c","c":"c74","s":"pos","x":280.8,"y":17},{"p":"c","c":"c74","s":"pos","x":280,"y":15},{"p":"c","c":"c74","s":"pos","x":279.3,"y":17},{"p":"c","c":"c74","s":"pos","x":280,"y":20},
{"p":"c","c":"c75","s":"pos","x":276,"y":20},{"p":"c","c":"c75","s":"pos","x":276,"y":16},{"p":"c","c":"c75","s":"pos","x":278,"y":11.5},{"p":"c","c":"c75","s":"pos","x":283,"y":11},{"p":"c","c":"c75","s":"pos","x":284,"y":16},{"p":"c","c":"c75","s":"pos","x":284,"y":20},
{"p":"c","c":"c76","s":"neg","x":265,"y":16},{"p":"c","c":"c76","s":"neg","x":268,"y":13},{"p":"c","c":"c76","s":"neg","x":272,"y":10},{"p":"c","c":"c76","s":"neg","x":275,"y":6},{"p":"c","c":"c76","s":"neg","x":276,"y":2},
{"p":"c","c":"c77","s":"neg","x":268,"y":18},{"p":"c","c":"c77","s":"neg","x":271,"y":14},{"p":"c","c":"c77","s":"neg","x":274,"y":11},{"p":"c","c":"c77","s":"neg","x":277,"y":8},
{"p":"c","c":"c78","s":"neg","x":262,"y":14},{"p":"c","c":"c78","s":"neg","x":266,"y":10},{"p":"c","c":"c78","s":"neg","x":270,"y":6},{"p":"c","c":"c78","s":"neg","x":272,"y":2}
]
},
"vconcat": [
{
 "width": 525, "height": 242,
 "title": "(a) OBS, SST Correlated with PRECT",
 "layer": [
  {"data": {"name": "shade"}, "transform": [{"filter": "datum.p === 'a'"}], "mark": {"type": "rect", "clip": true, "opacity": 1, "strokeWidth": 0.8},
   "encoding": {
    "x": {"field": "x1", "type": "quantitative", "scale": {"domain": [30, 300], "nice": false, "zero": false}, "axis": {"values": [30,60,90,120,150,180,210,240,270,300], "title": null}},
    "x2": {"field": "x2"},
    "y": {"field": "y1", "type": "quantitative", "scale": {"domain": [-20, 20], "nice": false, "zero": false}, "axis": {"values": [-20,-15,-10,-5,0,5,10,15,20], "title": "Lag [days]", "titlePadding": 4}},
    "y2": {"field": "y2"},
    "color": {"field": "k", "type": "nominal", "scale": {"domain": ["neg", "pos"], "range": ["#a9a9a9", "#555555"]}, "legend": null},
    "stroke": {"field": "k", "type": "nominal", "scale": {"domain": ["neg", "pos"], "range": ["#a9a9a9", "#555555"]}, "legend": null}
   }},
  {"data": {"name": "lines"}, "transform": [{"filter": "datum.p === 'a'"}], "mark": {"type": "line", "color": "black", "strokeWidth": 1.4, "clip": true},
   "encoding": {
    "x": {"field": "x", "type": "quantitative"},
    "y": {"field": "y", "type": "quantitative"},
    "detail": {"field": "c"},
    "order": {"value": null},
    "strokeDash": {"field": "s", "type": "nominal", "scale": {"domain": ["pos", "neg"], "range": [[1, 0], [7, 4]]}, "legend": null}
   }},
  {"mark": {"type": "rule", "color": "black", "strokeWidth": 3.5}, "encoding": {"y": {"datum": 0}}}
 ]
},
{
 "width": 525, "height": 242,
 "title": "(b) CTL, SST Correlated with PRECT",
 "layer": [
  {"data": {"name": "lines"}, "transform": [{"filter": "datum.p === 'b'"}], "mark": {"type": "line", "color": "black", "strokeWidth": 1.4, "clip": true},
   "encoding": {
    "x": {"field": "x", "type": "quantitative", "scale": {"domain": [30, 300], "nice": false, "zero": false}, "axis": {"values": [30,60,90,120,150,180,210,240,270,300], "title": null}},
    "y": {"field": "y", "type": "quantitative", "scale": {"domain": [-20, 20], "nice": false, "zero": false}, "axis": {"values": [-20,-15,-10,-5,0,5,10,15,20], "title": "Lag [days]", "titlePadding": 4}},
    "detail": {"field": "c"},
    "order": {"value": null},
    "strokeDash": {"field": "s", "type": "nominal", "scale": {"domain": ["pos", "neg"], "range": [[1, 0], [7, 4]]}, "legend": null}
   }},
  {"mark": {"type": "rule", "color": "black", "strokeWidth": 3.5}, "encoding": {"y": {"datum": 0}}}
 ]
},
{
 "width": 525, "height": 242,
 "title": "(c) SOM, SST Correlated with PRECT",
 "layer": [
  {"data": {"name": "shade"}, "transform": [{"filter": "datum.p === 'c'"}], "mark": {"type": "rect", "clip": true, "opacity": 1, "strokeWidth": 0.8},
   "encoding": {
    "x": {"field": "x1", "type": "quantitative", "scale": {"domain": [30, 300], "nice": false, "zero": false}, "axis": {"values": [30,60,90,120,150,180,210,240,270,300], "title": "Longitude [deg E]", "titlePadding": 8}},
    "x2": {"field": "x2"},
    "y": {"field": "y1", "type": "quantitative", "scale": {"domain": [-20, 20], "nice": false, "zero": false}, "axis": {"values": [-20,-15,-10,-5,0,5,10,15,20], "title": "Lag [days]", "titlePadding": 4}},
    "y2": {"field": "y2"},
    "color": {"field": "k", "type": "nominal", "scale": {"domain": ["neg", "pos"], "range": ["#a9a9a9", "#555555"]}, "legend": null},
    "stroke": {"field": "k", "type": "nominal", "scale": {"domain": ["neg", "pos"], "range": ["#a9a9a9", "#555555"]}, "legend": null}
   }},
  {"data": {"name": "lines"}, "transform": [{"filter": "datum.p === 'c'"}], "mark": {"type": "line", "color": "black", "strokeWidth": 1.4, "clip": true},
   "encoding": {
    "x": {"field": "x", "type": "quantitative"},
    "y": {"field": "y", "type": "quantitative"},
    "detail": {"field": "c"},
    "order": {"value": null},
    "strokeDash": {"field": "s", "type": "nominal", "scale": {"domain": ["pos", "neg"], "range": [[1, 0], [7, 4]]}, "legend": null}
   }},
  {"mark": {"type": "rule", "color": "black", "strokeWidth": 3.5}, "encoding": {"y": {"datum": 0}}}
 ]
}
]
}
